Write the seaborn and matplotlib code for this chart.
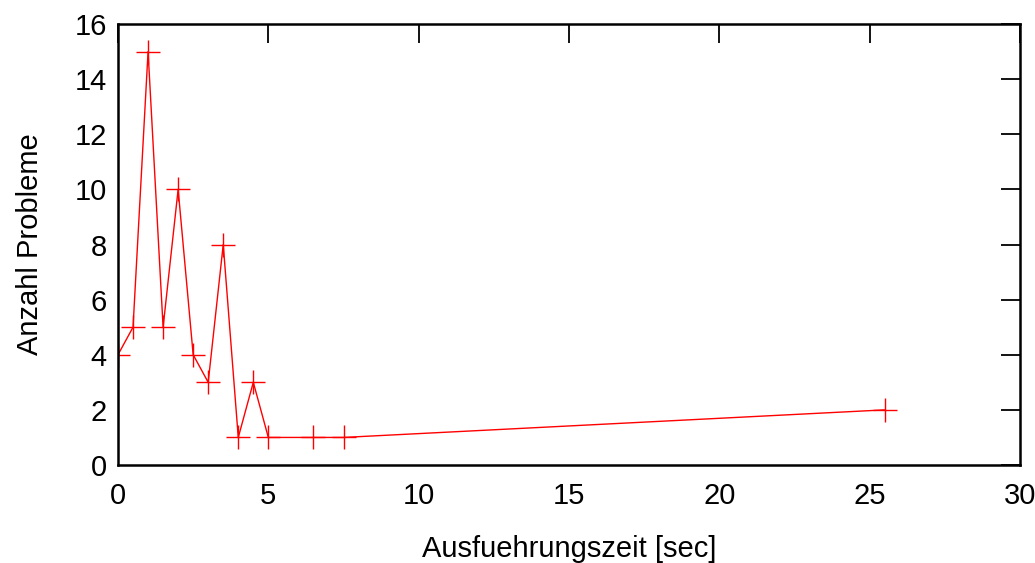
import matplotlib
matplotlib.use("Agg")
import matplotlib.pyplot as plt
import seaborn as sns
import pandas as pd

# Daten: Ausfuehrungszeit vs. Anzahl Probleme
zeit = [0, 0.5, 1, 1.5, 2, 2.5, 3, 3.5, 4, 4.5, 5, 6.5, 7.5, 25.5]
anzahl = [4, 5, 15, 5, 10, 4, 3, 8, 1, 3, 1, 1, 1, 2]
x_ticks = [0, 5, 10, 15, 20, 25, 30]
y_ticks = [0, 2, 4, 6, 8, 10, 12, 14, 16]

sns.set_style("white")
plt.rcParams['font.family'] = ['Liberation Sans', 'DejaVu Sans']
plt.rcParams['text.color'] = 'black'
plt.rcParams['axes.labelcolor'] = 'black'

df = pd.DataFrame({'zeit': zeit, 'anzahl': anzahl})

fig = plt.figure(figsize=(10.35, 5.63), dpi=100)
ax = fig.add_axes([118 / 1035, 1 - 465 / 563, (1020 - 118) / 1035, (465 - 24) / 563])

sns.lineplot(data=df, x='zeit', y='anzahl', ax=ax, color='#ff0000', linewidth=1.0,
             marker='+', markersize=17, markeredgewidth=1.0, markeredgecolor='#ff0000')

ax.set_xlim(0, 30)
ax.set_ylim(0, 16)
ax.set_xticks(x_ticks)
ax.set_yticks(y_ticks)
ax.tick_params(direction='in', length=14, width=1.3, top=True, right=True,
               labelsize=21, colors='black')
ax.tick_params(axis='x', pad=12)
ax.tick_params(axis='y', pad=8)
for s in ax.spines.values():
    s.set_visible(True)
    s.set_linewidth(1.8)
    s.set_color('black')
ax.set_xlabel('Ausfuehrungszeit [sec]', fontsize=21, labelpad=18)
ax.set_ylabel('Anzahl Probleme', fontsize=21, labelpad=22)

fig.savefig('out.png', dpi=100)
